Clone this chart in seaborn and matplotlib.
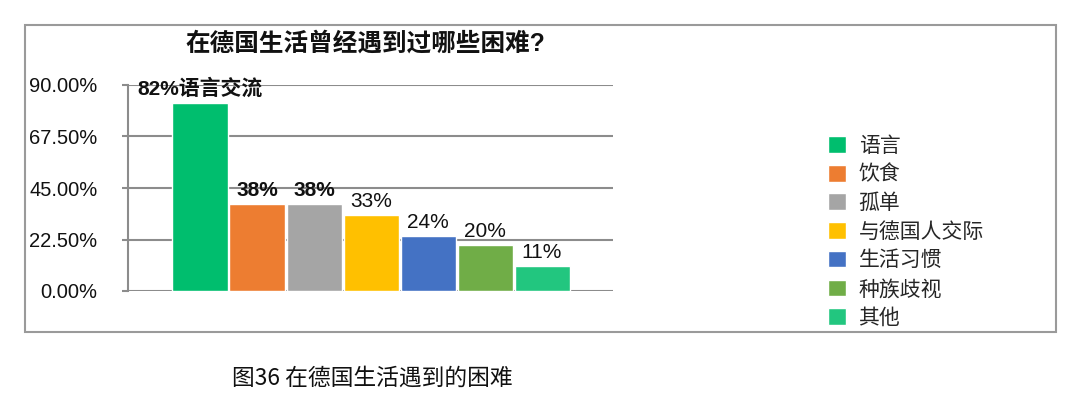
import numpy as np
import pandas as pd
import seaborn as sns
import matplotlib.pyplot as plt
from matplotlib.patches import Rectangle

# data
categories = ['语言', '饮食', '孤单', '与德国人交际', '生活习惯', '种族歧视', '其他']
values = [82, 38, 38, 33, 24, 20, 11]
bar_labels = ['82%语言交流', '38%', '38%', '33%', '24%', '20%', '11%']
bold_labels = [True, True, True, False, False, False, False]
yticks = [0, 22.5, 45, 67.5, 90]
colors = ['#00BE6E', '#ED7D31', '#A5A5A5', '#FFC000', '#4472C4', '#70AD47', '#22C67F']
title = '在德国生活曾经遇到过哪些困难?'
caption = '图36 在德国生活遇到的困难'

sns.set_theme(style='white')
plt.rcParams['font.family'] = ['Liberation Sans', 'Noto Sans CJK SC', 'DejaVu Sans']

df = pd.DataFrame({'cat': categories, 'val': values})

fig = plt.figure(figsize=(10.8, 4.09), dpi=100)
ax = fig.add_axes([128 / 1080, 1 - 291 / 409, (613 - 128) / 1080, (291 - 85) / 409])

sns.barplot(data=df, x='cat', y='val', hue='cat', palette=colors, width=0.965,
            saturation=1, legend=True, ax=ax)

ax.set_xlim(-1.263, 7.245)
ax.set_ylim(0, 90)
ax.set_yticks(yticks)
ax.set_yticklabels(['%.2f%%' % t for t in yticks], fontsize=14.5, color='#111111')
ax.set_xticks([])
ax.set_xlabel('')
ax.set_ylabel('')
ax.yaxis.grid(True, color='#8C8C8C', linewidth=1.5)
ax.set_axisbelow(True)
for s in ['top', 'right', 'bottom']:
    ax.spines[s].set_visible(False)
ax.spines['left'].set_color('#8C8C8C')
ax.spines['left'].set_linewidth(1.5)
ax.tick_params(axis='y', left=True, length=4, width=1.5, color='#8C8C8C', pad=18)

# value labels on bars
for i, cont in enumerate(ax.containers):
    ax.bar_label(cont, labels=[bar_labels[i]], padding=3, fontsize=15,
                 fontweight='bold' if bold_labels[i] else 'normal', color='#111111')

fig.text(365 / 1080, 1 - 44 / 409, title, ha='center', va='center',
         fontsize=17.7, fontweight='bold', color='#111111')

handles, labels = ax.get_legend_handles_labels()
ax.get_legend().remove()
fig.legend(handles, labels, loc='upper left', bbox_to_anchor=(820 / 1080, 1 - 128 / 409),
           frameon=False, fontsize=15, handlelength=0.85, handleheight=0.85,
           handletextpad=0.6, labelspacing=0.43, borderaxespad=0)

# outer frame around the chart
fig.patches.append(Rectangle((25 / 1080, 1 - 332 / 409), (1056 - 25) / 1080, (332 - 25) / 409,
                             transform=fig.transFigure, fill=False, edgecolor='#9A9A9A',
                             linewidth=1.5))

fig.text(372 / 1080, 1 - 378 / 409, caption, ha='center', va='center',
         fontsize=16.4, color='#111111', family=['Noto Sans CJK SC', 'DejaVu Sans'])

fig.savefig('out.png', dpi=100)
